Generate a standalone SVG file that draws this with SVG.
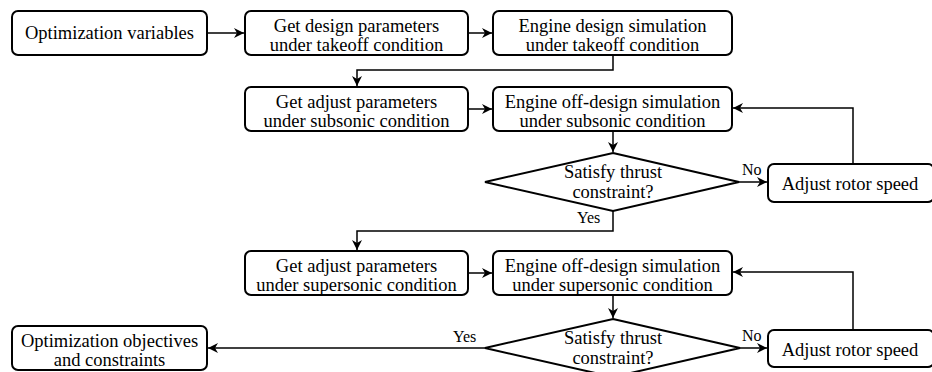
<svg xmlns="http://www.w3.org/2000/svg" width="932" height="372" viewBox="0 0 932 372">
<style>
text{font-family:"Liberation Serif","Times New Roman",Times,"DejaVu Serif",serif}
.box{fill:#fff;stroke:#000;stroke-width:2}
.t{font-size:18.5px;fill:#000;text-anchor:middle}
.lbl{font-size:16px;fill:#000}
.c{fill:none;stroke:#000;stroke-width:1.5}
</style>
<defs>
<marker id="ah" markerWidth="12" markerHeight="10" refX="10" refY="5" orient="auto" markerUnits="userSpaceOnUse">
<path d="M0,0 L10,5 L0,10 L3,5 Z" fill="#000"/>
</marker>
</defs>
<rect width="932" height="372" fill="#fff"/>
<g id="connectors">
<path class="c" d="M207,33 H244" marker-end="url(#ah)"/>
<path class="c" d="M468,33 H492" marker-end="url(#ah)"/>
<path class="c" d="M613,55 V70 H357 V86" marker-end="url(#ah)"/>
<path class="c" d="M468,109 H492" marker-end="url(#ah)"/>
<path class="c" d="M613,131 V152" marker-end="url(#ah)"/>
<path class="c" d="M739,182 H767" marker-end="url(#ah)"/>
<path class="c" d="M853,164 V108 H733" marker-end="url(#ah)"/>
<path class="c" d="M613,211 V231 H357 V250" marker-end="url(#ah)"/>
<path class="c" d="M468,273 H492" marker-end="url(#ah)"/>
<path class="c" d="M613,295 V318" marker-end="url(#ah)"/>
<path class="c" d="M740,348 H767" marker-end="url(#ah)"/>
<path class="c" d="M853,330 V272 H733" marker-end="url(#ah)"/>
<path class="c" d="M485,348 H208" marker-end="url(#ah)"/>
<text class="lbl" x="742" y="175">No</text>
<text class="lbl" x="577" y="223">Yes</text>
<text class="lbl" x="742" y="341">No</text>
<text class="lbl" x="453" y="342">Yes</text>
</g>
<g id="n1"><rect class="box" x="12" y="11" width="195" height="44" rx="6"/><text class="t" x="109.5" y="39">Optimization variables</text></g>
<g id="n2"><rect class="box" x="245" y="11" width="223" height="44" rx="6"/><text class="t" x="356.5" y="32">Get design parameters</text><text class="t" x="356.5" y="51">under takeoff condition</text></g>
<g id="n3"><rect class="box" x="493" y="11" width="239" height="44" rx="6"/><text class="t" x="612.5" y="32">Engine design simulation</text><text class="t" x="612.5" y="51">under takeoff condition</text></g>
<g id="n4"><rect class="box" x="245" y="87" width="223" height="44" rx="6"/><text class="t" x="356.5" y="108">Get adjust parameters</text><text class="t" x="356.5" y="127">under subsonic condition</text></g>
<g id="n5"><rect class="box" x="493" y="87" width="239" height="44" rx="6"/><text class="t" x="612.5" y="108">Engine off-design simulation</text><text class="t" x="612.5" y="127">under subsonic condition</text></g>
<g id="d1"><polygon class="box" points="613,153 739,182 613,211 485,182"/><text class="t" x="613" y="178">Satisfy thrust</text><text class="t" x="613" y="198">constraint?</text></g>
<g id="r1"><rect class="box" x="768" y="164" width="166" height="38" rx="6"/><text class="t" x="850" y="190">Adjust rotor speed</text></g>
<g id="n6"><rect class="box" x="245" y="251" width="223" height="44" rx="6"/><text class="t" x="356.5" y="272">Get adjust parameters</text><text class="t" x="356.5" y="291">under supersonic condition</text></g>
<g id="n7"><rect class="box" x="493" y="251" width="239" height="44" rx="6"/><text class="t" x="612.5" y="272">Engine off-design simulation</text><text class="t" x="612.5" y="291">under supersonic condition</text></g>
<g id="d2"><polygon class="box" points="613,319 740,348 613,377 485,348"/><text class="t" x="613" y="344">Satisfy thrust</text><text class="t" x="613" y="364">constraint?</text></g>
<g id="r2"><rect class="box" x="768" y="330" width="166" height="37" rx="6"/><text class="t" x="850" y="356">Adjust rotor speed</text></g>
<g id="n8"><rect class="box" x="12" y="326" width="195" height="44" rx="6"/><text class="t" x="109.5" y="347">Optimization objectives</text><text class="t" x="109.5" y="366">and constraints</text></g>
</svg>
